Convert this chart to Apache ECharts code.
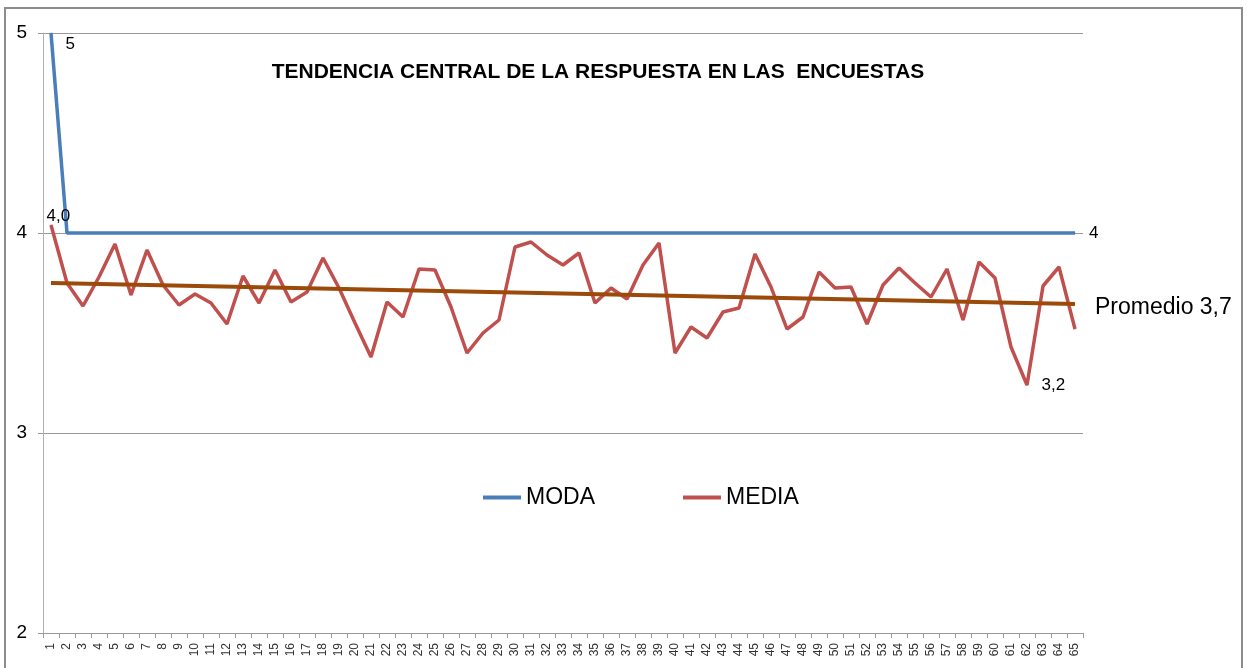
<!DOCTYPE html>
<html>
<head>
<meta charset="utf-8">
<script src="https://cdn.jsdelivr.net/npm/echarts@6/dist/echarts.min.js"></script>
<style>
  html, body { margin: 0; padding: 0; background: #fff; }
  #chart { width: 1247px; height: 668px; }
</style>
</head>
<body>
<div id="chart"></div>
<script>
// Encuestas 1..65
const categories = [];
for (let i = 1; i <= 65; i++) categories.push(String(i));

const modaValues = [5].concat(new Array(64).fill(4));

const mediaValues = [
  4.04, 3.75, 3.635, 3.78, 3.945, 3.69, 3.915, 3.74, 3.64, 3.695,
  3.65, 3.545, 3.785, 3.65, 3.815, 3.655, 3.705, 3.875, 3.725, 3.55,
  3.38, 3.655, 3.58, 3.82, 3.815, 3.63, 3.40, 3.50, 3.565, 3.93,
  3.955, 3.89, 3.84, 3.90, 3.65, 3.725, 3.67, 3.84, 3.95, 3.40,
  3.53, 3.475, 3.605, 3.625, 3.895, 3.73, 3.52, 3.58, 3.805, 3.725,
  3.73, 3.545, 3.74, 3.825, 3.75, 3.68, 3.82, 3.565, 3.855, 3.775,
  3.43, 3.24, 3.735, 3.83, 3.52
];

// linear trend of MEDIA: value at first and last survey
const trendEnds = [3.75, 3.645];
const trendLabel = 'Promedio 3,7';

const yTicks = [2, 3, 4, 5];

const FONT = 'Liberation Sans';

function comma(v) {
  return v.toFixed(1).replace('.', ',');
}

function pointLabel(pos, text) {
  return { show: true, position: pos, formatter: text, fontSize: 17, color: '#000', fontFamily: FONT };
}

const modaData = modaValues.map(function (v, i) {
  if (i === 0) return { value: v, label: pointLabel([15, 3], String(v)) };
  return v;
});

const mediaData = mediaValues.map(function (v, i) {
  if (i === 0) return { value: v, label: pointLabel([-4, -17], comma(v)) };
  if (i === 61) return { value: v, label: pointLabel([15, -8], comma(v)) };
  return v;
});

const trendData = categories.map(function (c, i) {
  if (i === 0) return trendEnds[0];
  if (i === categories.length - 1) return trendEnds[1];
  return null;
});

const chart = echarts.init(document.getElementById('chart'), null, { renderer: 'canvas' });

const option = {
  animation: false,
  backgroundColor: '#ffffff',
  textStyle: { fontFamily: FONT, color: '#000' },
  title: {
    text: 'TENDENCIA CENTRAL DE LA RESPUESTA EN LAS  ENCUESTAS',
    left: 593,
    top: 57,
    textAlign: 'center',
    textStyle: { fontFamily: FONT, fontWeight: 'bold', fontSize: 21, color: '#000' }
  },
  legend: {
    data: ['MODA', 'MEDIA'],
    left: 478,
    top: 481,
    icon: 'rect',
    itemWidth: 38,
    itemHeight: 4,
    itemGap: 88,
    textStyle: { fontFamily: FONT, fontSize: 23, color: '#000' }
  },
  grid: { left: 43, right: 164, top: 33, bottom: 35 },
  xAxis: {
    type: 'category',
    data: categories,
    boundaryGap: true,
    axisLine: { lineStyle: { color: '#9a9a9a', width: 1 } },
    axisTick: { show: true, length: 5, lineStyle: { color: '#9a9a9a' } },
    axisLabel: {
      interval: 0,
      rotate: 90,
      fontSize: 12,
      margin: 10,
      color: '#333',
      fontFamily: FONT
    },
    splitLine: { show: false }
  },
  yAxis: {
    type: 'value',
    min: yTicks[0],
    max: yTicks[yTicks.length - 1],
    interval: 1,
    axisLine: { show: true, lineStyle: { color: '#b0b0b0', width: 1 } },
    axisTick: { show: true, length: 5, lineStyle: { color: '#9a9a9a' } },
    axisLabel: { fontSize: 19, margin: 16, color: '#000', fontFamily: FONT },
    splitLine: { show: true, lineStyle: { color: '#9a9a9a', width: 1 } }
  },
  series: [
    {
      name: 'MODA',
      type: 'line',
      data: modaData,
      symbol: 'circle',
      symbolSize: 1,
      showSymbol: true,
      color: '#4a7ebb',
      lineStyle: { width: 3.5, color: '#4a7ebb' },
      endLabel: {
        show: true,
        distance: 14,
        fontSize: 17,
        color: '#000',
        fontFamily: FONT,
        formatter: function (p) { return String(p.value); }
      },
      z: 2
    },
    {
      name: 'MEDIA',
      type: 'line',
      data: mediaData,
      symbol: 'circle',
      symbolSize: 1,
      showSymbol: true,
      color: '#c0504d',
      lineStyle: { width: 3.5, color: '#c0504d' },
      z: 3
    },
    {
      name: 'Tendencia',
      type: 'line',
      data: trendData,
      connectNulls: true,
      symbol: 'none',
      color: '#9c4a0a',
      lineStyle: { width: 4, color: '#9c4a0a' },
      endLabel: {
        show: true,
        distance: 20,
        offset: [0, 4],
        fontSize: 23,
        color: '#000',
        fontFamily: FONT,
        formatter: trendLabel
      },
      z: 4
    }
  ],
  graphic: [
    {
      type: 'rect',
      silent: true,
      shape: { x: 5, y: 8, width: 1237, height: 700 },
      style: { fill: null, stroke: '#8c8c8c', lineWidth: 2 }
    }
  ]
};

chart.setOption(option);
</script>
</body>
</html>
